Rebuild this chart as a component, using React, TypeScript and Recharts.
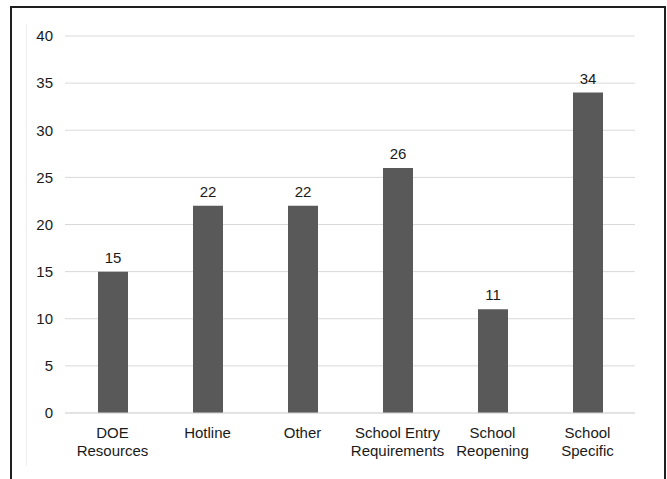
import { BarChart, Bar, XAxis, YAxis, CartesianGrid, LabelList } from 'recharts';

const categories = [
  'DOE\nResources',
  'Hotline',
  'Other',
  'School Entry\nRequirements',
  'School\nReopening',
  'School\nSpecific',
];
const counts = [15, 22, 22, 26, 11, 34];
const yTicks = [0, 5, 10, 15, 20, 25, 30, 35, 40];

const data = categories.map((name, i) => ({ name, count: counts[i] }));

const FONT = '"Liberation Sans", Arial, sans-serif';

function CategoryTick({ x, y, payload }: any) {
  const lines = String(payload.value).split('\n');
  return (
    <text x={x} y={y} textAnchor="middle" fill="#1a1a1a" fontSize={15} fontFamily={FONT}>
      {lines.map((line, i) => (
        <tspan key={i} x={x} dy={i === 0 ? 16.5 : 18}>{line}</tspan>
      ))}
    </text>
  );
}

export default function App() {
  return (
    <div style={{ position: 'fixed', left: 0, top: 0, width: 667, height: 479, background: '#fff', overflow: 'hidden' }}>
      {/* outer frame, open at the bottom */}
      <div style={{
        position: 'absolute', left: 10, top: 6, width: 652, height: 480,
        borderTop: '2.5px solid #1f1f1f', borderLeft: '2.5px solid #1f1f1f', borderRight: '2.5px solid #1f1f1f',
      }} />
      {/* faint inner chart-area edge */}
      <div style={{ position: 'absolute', left: 26, top: 24, width: 1, height: 442, background: '#efefef' }} />
      <div style={{ position: 'absolute', left: 0, top: 0 }}>
        <BarChart width={667} height={479} data={data} margin={{ top: 36, right: 32, bottom: 16, left: 20 }}>
          <CartesianGrid vertical={false} stroke="#d9d9d9" strokeWidth={1} />
          <XAxis
            dataKey="name"
            interval={0}
            height={50}
            tick={<CategoryTick />}
            tickLine={false}
            axisLine={{ stroke: '#d9d9d9' }}
          />
          <YAxis
            width={45}
            domain={[0, 40]}
            ticks={yTicks}
            tickLine={false}
            axisLine={false}
            tickMargin={6}
            tick={{ fill: '#1a1a1a', fontSize: 15, fontFamily: FONT }}
          />
          <Bar dataKey="count" fill="#595959" barSize={30} isAnimationActive={false}>
            <LabelList dataKey="count" position="top" offset={9} fill="#1a1a1a" fontSize={15} fontFamily={FONT} />
          </Bar>
        </BarChart>
      </div>
    </div>
  );
}
